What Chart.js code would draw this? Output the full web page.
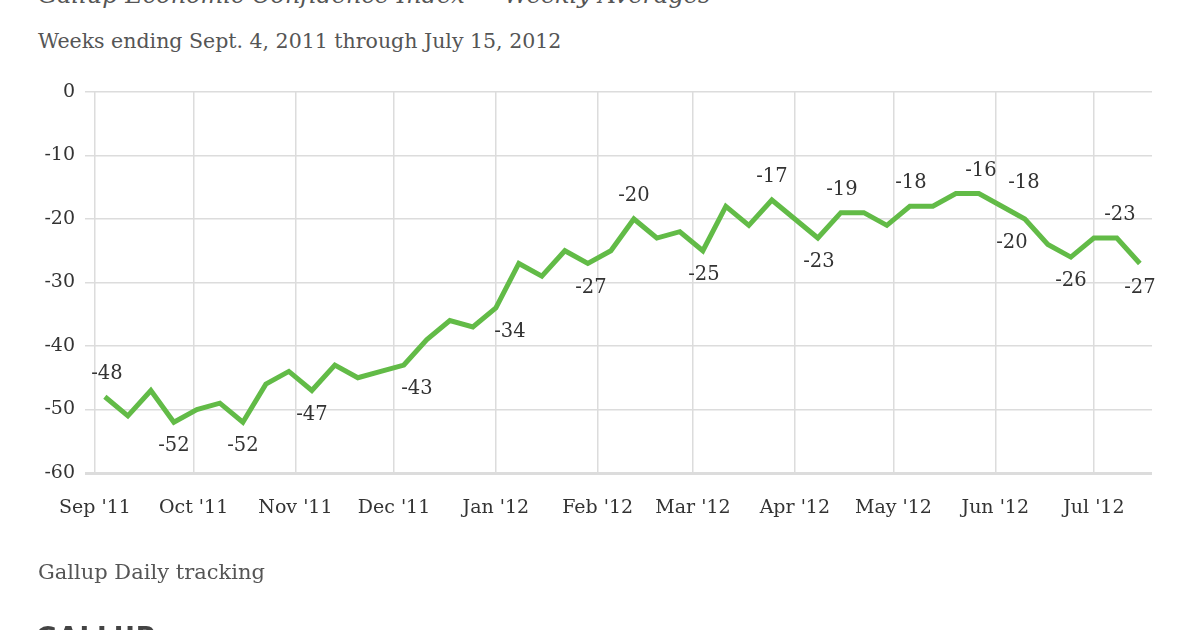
<!DOCTYPE html>
<html>
<head>
<meta charset="utf-8">
<script src="https://cdn.jsdelivr.net/npm/chart.js@4.4.1/dist/chart.umd.min.js"></script>
<style>
  body{margin:0;background:#fff;width:1200px;height:630px;overflow:hidden;position:relative;font-family:"DejaVu Serif",serif}
  #grafico{position:absolute;left:0;top:0}
  .txt{position:absolute;left:38px;white-space:nowrap;color:#555;line-height:1}
  #titulo{top:-17px;font-size:24px;font-style:italic}
  #subtitulo{top:31px;font-size:20.5px}
  #fuente{top:562px;font-size:21px}
  #marca{top:624px;left:36px;font-size:26px;font-weight:bold;font-family:"DejaVu Sans",sans-serif;color:#444;letter-spacing:1px}
</style>
</head>
<body>
<div class="txt" id="titulo">Gallup Economic Confidence Index — Weekly Averages</div>
<div class="txt" id="subtitulo">Weeks ending Sept. 4, 2011 through July 15, 2012</div>
<canvas id="grafico" width="1200" height="630"></canvas>
<div class="txt" id="fuente">Gallup Daily tracking</div>
<div class="txt" id="marca">GALLUP</div>
<script>
// semanas (fecha de cierre) y valores
const semanas = [
  '2011-09-04','2011-09-11','2011-09-18','2011-09-25',
  '2011-10-02','2011-10-09','2011-10-16','2011-10-23','2011-10-30',
  '2011-11-06','2011-11-13','2011-11-20','2011-11-27',
  '2011-12-04','2011-12-11','2011-12-18','2011-12-25',
  '2012-01-01','2012-01-08','2012-01-15','2012-01-22','2012-01-29',
  '2012-02-05','2012-02-12','2012-02-19','2012-02-26',
  '2012-03-04','2012-03-11','2012-03-18','2012-03-25',
  '2012-04-01','2012-04-08','2012-04-15','2012-04-22','2012-04-29',
  '2012-05-06','2012-05-13','2012-05-20','2012-05-27',
  '2012-06-03','2012-06-10','2012-06-17','2012-06-24',
  '2012-07-01','2012-07-08','2012-07-15'
]
const indice = [
  -48,-51,-47,-52,
  -50,-49,-52,-46,-44,
  -47,-43,-45,-44,
  -43,-39,-36,-37,
  -34,-27,-29,-25,-27,
  -25,-20,-23,-22,
  -25,-18,-21,-17,
  -20,-23,-19,-19,-21,
  -18,-18,-16,-16,
  -18,-20,-24,-26,
  -23,-23,-27
]
const inicioMes = ['2011-09-01','2011-10-01','2011-11-01','2011-12-01','2012-01-01','2012-02-01','2012-03-01','2012-04-01','2012-05-01','2012-06-01','2012-07-01']
const etiquetasMes = ["Sep '11","Oct '11","Nov '11","Dec '11","Jan '12","Feb '12","Mar '12","Apr '12","May '12","Jun '12","Jul '12"]
const ticksY = [0,-10,-20,-30,-40,-50,-60]

// puntos con su valor escrito
const conEtiqueta = [0,3,6,9,13,17,21,23,26,29,31,32,35,38,39,40,42,44,45]
const lado = ['a','b','b','b','b','b','b','a','b','a','b','a','a','a','a','b','b','a','b']
const corrimiento = [2,0,0,0,13,14,3,0,1,0,1,1,1,2,22,-13,0,3,0]

const fuenteTexto = '"DejaVu Serif", serif'
const verde = '#62bb47'
const gris = '#dcdcdc'

function diasDesde(fecha){
  const p = fecha.split('-').map(Number)
  return (Date.UTC(p[0], p[1]-1, p[2]) - Date.UTC(2011, 8, 1)) / 86400000
}

const diasMes = inicioMes.map(diasDesde)
const puntos = semanas.map((s, i) => ({x: diasDesde(s), y: indice[i]}))

const pluginEtiquetas = {
  id: 'etiquetasValor',
  afterDatasetsDraw(chart){
    const {ctx} = chart
    const meta = chart.getDatasetMeta(0)
    ctx.save()
    ctx.font = '19.5px ' + fuenteTexto
    ctx.fillStyle = '#333'
    ctx.textAlign = 'center'
    ctx.textBaseline = 'middle'
    conEtiqueta.forEach((idx, k) => {
      const el = meta.data[idx]
      const dy = lado[k] == 'a' ? -23 : 24
      ctx.fillText(String(indice[idx]), el.x + corrimiento[k], el.y + dy)
    })
    ctx.restore()
  }
}

const contexto = document.getElementById('grafico').getContext('2d')
new Chart(contexto, {
  type: 'line',
  data: {
    datasets: [{
      data: puntos,
      borderColor: verde,
      borderWidth: 5,
      borderJoinStyle: 'miter',
      pointRadius: 0,
      tension: 0,
      fill: false
    }]
  },
  plugins: [pluginEtiquetas],
  options: {
    responsive: false,
    animation: false,
    layout: {padding: {left: 0, top: 92, right: 48, bottom: 0}},
    plugins: {legend: {display: false}, tooltip: {enabled: false}},
    scales: {
      x: {
        type: 'linear',
        min: 0,
        max: 321.7,
        afterFit(scale){ scale.height = 157 },
        afterBuildTicks(scale){ scale.ticks = diasMes.map(v => ({value: v})) },
        ticks: {
          autoSkip: false,
          maxRotation: 0,
          padding: 24,
          color: '#333',
          font: {family: fuenteTexto, size: 19},
          callback: (v, i) => etiquetasMes[i]
        },
        grid: {color: gris, lineWidth: 1.5, drawTicks: false},
        border: {display: false}
      },
      y: {
        min: -60,
        max: 0,
        afterFit(scale){ scale.width = 95 },
        afterBuildTicks(scale){ scale.ticks = ticksY.map(v => ({value: v})) },
        ticks: {
          padding: 10,
          color: '#333',
          font: {family: fuenteTexto, size: 19}
        },
        grid: {
          color: gris,
          tickLength: 10,
          lineWidth: c => (c.tick && c.tick.value == -60) ? 3 : 1.5
        },
        border: {display: false}
      }
    }
  }
})
</script>
</body>
</html>
